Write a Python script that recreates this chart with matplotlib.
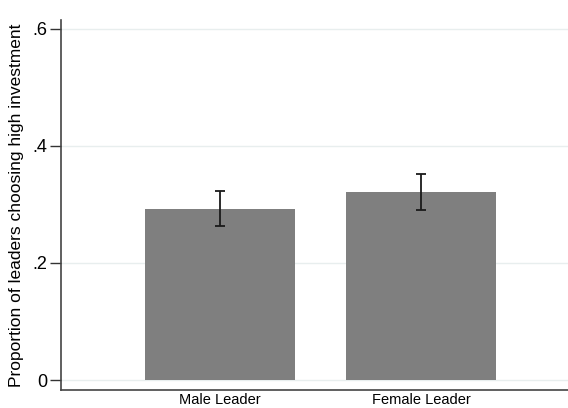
import matplotlib.pyplot as plt

# Data
groups = ["Male Leader", "Female Leader"]
props = [0.293, 0.321]
errs = [0.030, 0.031]
yticks = [0, 0.2, 0.4, 0.6]
yticklabels = ["0", ".2", ".4", ".6"]

plt.rcParams["font.family"] = ["Liberation Sans", "DejaVu Sans"]

fig = plt.figure(figsize=(5.68, 4.08), dpi=100)
ax = fig.add_axes([61 / 568, 18 / 408, 507 / 568, 370 / 408])

x = range(len(groups))
ax.bar(x, props, width=0.75, color="#7f7f7f", zorder=2)
ax.errorbar(x, props, yerr=errs, fmt="none", ecolor="#1a1a1a",
            elinewidth=1.3, capsize=3.5, capthick=1.3, zorder=3)

ax.set_xlim(-0.791, 1.731)
ax.set_ylim(-0.017, 0.615)
ax.set_yticks(yticks)
ax.set_yticklabels(yticklabels, fontsize=13)
ax.set_xticks(list(x))
ax.set_xticklabels(groups, fontsize=10.5)
ax.tick_params(axis="x", length=0, pad=2)
ax.tick_params(axis="y", length=8, width=1, color="#333333", pad=2)

ax.yaxis.grid(True, color="#e8eeee", linewidth=1, zorder=0)
ax.set_ylabel("Proportion of leaders choosing high investment", fontsize=12.5, labelpad=6)

for side in ["top", "right"]:
    ax.spines[side].set_visible(False)
for side in ["left", "bottom"]:
    ax.spines[side].set_color("#444444")
    ax.spines[side].set_linewidth(1.2)

fig.savefig("out.png", dpi=100)
